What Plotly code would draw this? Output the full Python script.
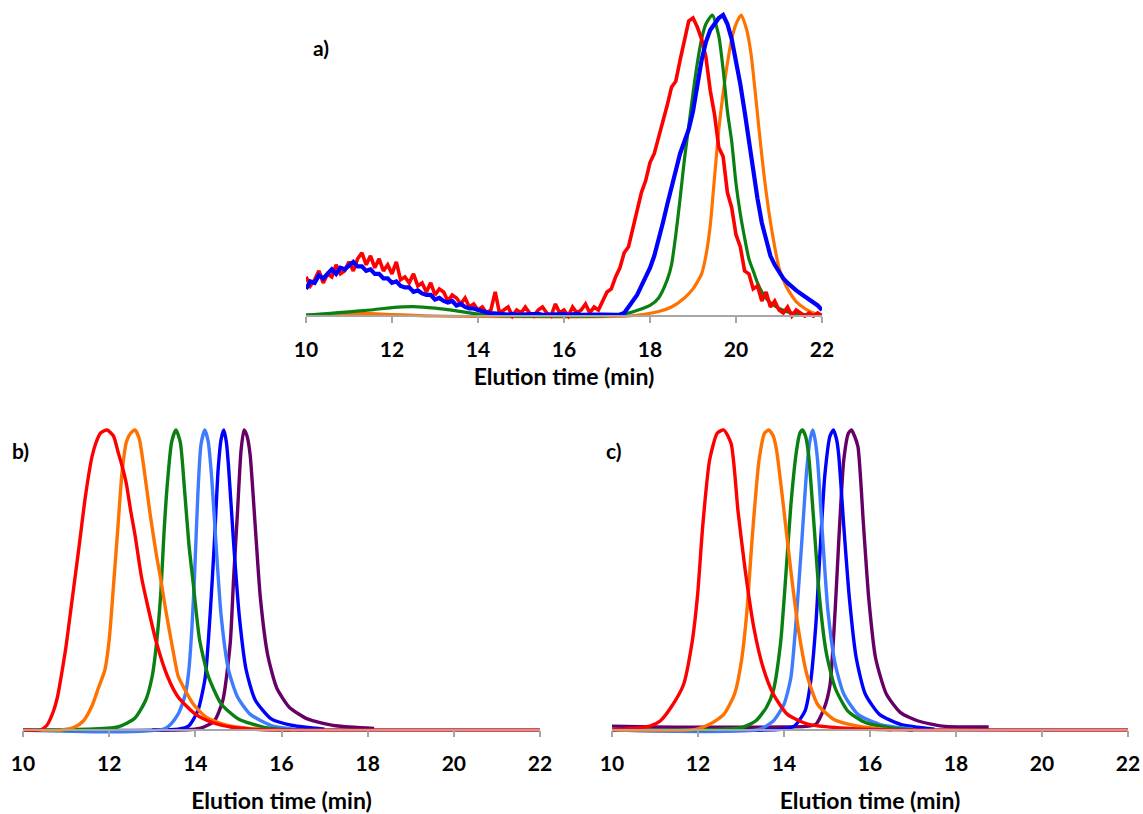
import plotly.graph_objects as go

# ---------------- data ----------------
# Panel a: noisy traces sampled every 0.1 min from 10 to 22
a_grid_t = [round(10 + 0.1 * i, 1) for i in range(121)]
a_red_y = [0.13, 0.10, 0.12, 0.15, 0.11, 0.14, 0.13, 0.17, 0.14, 0.15,
           0.18, 0.15, 0.19, 0.21, 0.17, 0.20, 0.16, 0.19, 0.15, 0.17,
           0.14, 0.18, 0.12, 0.13, 0.11, 0.14, 0.10, 0.11, 0.08, 0.11,
           0.07, 0.09, 0.08, 0.05, 0.07, 0.06, 0.04, 0.06, 0.03, 0.04,
           0.02, 0.03, 0.01, 0.02, 0.08, 0.01, 0.02, 0.03, 0.00, 0.02,
           0.01, 0.03, 0.01, 0.00, 0.02, 0.03, 0.01, 0.00, 0.04, 0.01,
           0.02, 0.00, 0.03, 0.01, 0.02, 0.04, 0.01, 0.03, 0.02, 0.05,
           0.08, 0.09, 0.13, 0.16, 0.21, 0.23, 0.29, 0.34, 0.41, 0.45,
           0.51, 0.54, 0.59, 0.64, 0.70, 0.76, 0.78, 0.85, 0.92, 0.98,
           0.99, 0.96, 0.92, 0.86, 0.75, 0.67, 0.56, 0.53, 0.41, 0.36,
           0.27, 0.23, 0.15, 0.14, 0.09, 0.10, 0.05, 0.08, 0.03, 0.05,
           0.02, 0.01, 0.03, 0.00, 0.02, 0.01, 0.00, 0.01, 0.00, 0.01,
           0.00]
a_blue_y = [0.09, 0.115, 0.11, 0.135, 0.125, 0.14, 0.155, 0.14, 0.16, 0.155,
            0.17, 0.18, 0.165, 0.165, 0.15, 0.155, 0.14, 0.14, 0.125, 0.125,
            0.11, 0.115, 0.10, 0.095, 0.095, 0.08, 0.085, 0.075, 0.07, 0.07,
            0.055, 0.06, 0.05, 0.045, 0.05, 0.035, 0.04, 0.03, 0.025, 0.025,
            0.02, 0.015, 0.012, 0.01, 0.008, 0.008, 0.006, 0.005, 0.007, 0.004,
            0.005, 0.006, 0.004, 0.005, 0.007, 0.004, 0.005, 0.006, 0.004, 0.005,
            0.006, 0.004, 0.005, 0.007, 0.004, 0.005, 0.006, 0.004, 0.005, 0.005,
            0.004, 0.006, 0.004, 0.005, 0.01, 0.03, 0.05, 0.07, 0.10, 0.13,
            0.16, 0.20, 0.25, 0.31, 0.37, 0.43, 0.49, 0.54, 0.58, 0.62,
            0.68, 0.76, 0.85, 0.91, 0.95, 0.97, 0.99, 1.00, 0.97, 0.92,
            0.85, 0.77, 0.68, 0.58, 0.48, 0.39, 0.31, 0.25, 0.20, 0.17,
            0.145, 0.125, 0.11, 0.095, 0.085, 0.075, 0.065, 0.055, 0.045, 0.035,
            0.02]
a_green_t = [10.0, 10.5, 11.0, 11.5, 12.0, 12.5, 13.0, 13.5, 14.0, 14.5, 17.0, 17.5, 18.0, 18.2,
             18.4, 18.5, 18.6, 18.7, 18.8, 18.9, 19.0, 19.1, 19.2, 19.3, 19.45, 19.6, 19.7, 19.8,
             19.9, 20.0, 20.1, 20.2, 20.3, 20.4, 20.5, 20.6, 20.75, 21.0, 21.3, 21.6, 22.0]
a_green_y = [0.003, 0.008, 0.014, 0.02, 0.028, 0.031, 0.026, 0.017, 0.006, 0.001, 0.001, 0.01, 0.035, 0.06,
             0.12, 0.17, 0.27, 0.39, 0.52, 0.63, 0.74, 0.84, 0.92, 0.97, 1.0, 0.93, 0.82, 0.68,
             0.58, 0.44, 0.34, 0.26, 0.19, 0.15, 0.11, 0.08, 0.05, 0.025, 0.01, 0.005, 0.003]
a_orange_t = [10.0, 10.5, 11.0, 11.5, 12.0, 12.5, 13.0, 17.5, 18.2, 18.5, 18.8, 19.0, 19.2, 19.3,
              19.4, 19.5, 19.6, 19.7, 19.8, 19.9, 20.0, 20.12, 20.25, 20.35, 20.45, 20.55, 20.65,
              20.75, 20.85, 21.0, 21.1, 21.2, 21.4, 21.6, 21.8, 22.0]
a_orange_y = [0.003, 0.006, 0.008, 0.008, 0.005, 0.002, 0.0, 0.0, 0.015, 0.03, 0.06, 0.09, 0.14, 0.2,
              0.3, 0.46, 0.62, 0.74, 0.84, 0.92, 0.97, 1.0, 0.95, 0.87, 0.74, 0.6, 0.47,
              0.36, 0.27, 0.16, 0.12, 0.09, 0.048, 0.025, 0.01, 0.003]

# Panel b
b_red_t = [10.0, 10.4, 10.55, 10.7, 10.8, 10.9, 11.0, 11.1, 11.2, 11.3, 11.45, 11.6, 11.7, 11.8, 11.95,
           12.1, 12.2, 12.3, 12.4, 12.5, 12.6, 12.75, 12.9, 13.1, 13.35, 13.6, 14.0, 14.4, 14.85, 15.3,
           16.0, 22.0]
b_red_y = [0, 0, 0.015, 0.06, 0.11, 0.19, 0.28, 0.39, 0.50, 0.61, 0.78, 0.91, 0.96, 0.99, 1.0,
           0.98, 0.93, 0.88, 0.82, 0.73, 0.65, 0.51, 0.41, 0.29, 0.18, 0.11, 0.053, 0.025, 0.009, 0.003,
           0, 0]
b_orange_t = [10.0, 10.9, 11.2, 11.4, 11.6, 11.75, 11.9, 12.0, 12.1, 12.2, 12.3, 12.4, 12.5, 12.6, 12.7,
              12.8, 12.95, 13.1, 13.2, 13.3, 13.45, 13.6, 13.7, 13.95, 14.25, 14.75, 15.4, 16.0]
b_orange_y = [0, 0, 0.01, 0.03, 0.08, 0.14, 0.2, 0.3, 0.48, 0.67, 0.86, 0.96, 0.99, 1.0, 0.97,
              0.88, 0.72, 0.58, 0.5, 0.41, 0.29, 0.18, 0.15, 0.087, 0.043, 0.015, 0.003, 0]
b_green_t = [10.0, 12.2, 12.6, 12.85, 13.0, 13.1, 13.2, 13.27, 13.35, 13.45, 13.55, 13.65, 13.75, 13.85,
             13.95, 14.1, 14.3, 14.6, 15.0, 15.6, 16.2]
b_green_y = [0, 0.01, 0.04, 0.1, 0.18, 0.29, 0.46, 0.65, 0.82, 0.96, 1.0, 0.96, 0.8, 0.62,
             0.49, 0.3, 0.18, 0.087, 0.037, 0.009, 0]
b_lblue_t = [10.0, 13.3, 13.6, 13.77, 13.85, 13.92, 13.98, 14.06, 14.13, 14.22, 14.3, 14.38, 14.48, 14.6,
             14.77, 14.98, 15.27, 15.76, 16.5]
b_lblue_y = [0, 0.005, 0.053, 0.12, 0.2, 0.34, 0.51, 0.79, 0.95, 1.0, 0.96, 0.84, 0.62, 0.38,
             0.2, 0.11, 0.053, 0.015, 0]
b_blue_t = [10.0, 13.6, 13.85, 14.06, 14.23, 14.35, 14.44, 14.53, 14.6, 14.66, 14.72, 14.77, 14.89, 15.02,
            15.18, 15.39, 15.76, 16.26, 17.0]
b_blue_y = [0, 0.003, 0.014, 0.065, 0.176, 0.4, 0.62, 0.87, 0.97, 1.0, 0.96, 0.88, 0.62, 0.38,
            0.2, 0.1, 0.037, 0.015, 0.003]
b_purple_t = [13.0, 14.1, 14.44, 14.64, 14.81, 14.89, 14.98, 15.06, 15.13, 15.2, 15.27, 15.39, 15.51,
              15.68, 15.89, 16.18, 16.6, 17.26, 18.15]
b_purple_y = [0, 0.005, 0.03, 0.1, 0.29, 0.51, 0.73, 0.93, 1.0, 0.98, 0.92, 0.68, 0.44,
              0.25, 0.14, 0.076, 0.037, 0.014, 0.005]

# Panel c
c_red_t = [10.0, 10.88, 11.12, 11.37, 11.66, 11.86, 11.99, 12.11, 12.27, 12.45, 12.6, 12.77, 12.93, 13.1,
           13.3, 13.51, 13.75, 14.08, 14.57, 15.23, 16.05, 22.0]
c_red_y = [0, 0.013, 0.03, 0.075, 0.15, 0.29, 0.45, 0.68, 0.9, 0.99, 1.0, 0.955, 0.73, 0.53,
           0.34, 0.21, 0.12, 0.052, 0.019, 0.008, 0.002, 0]
c_orange_t = [10.0, 11.95, 12.27, 12.6, 12.85, 13.01, 13.14, 13.26, 13.42, 13.55, 13.65, 13.75, 13.83,
              14.0, 14.16, 14.33, 14.53, 14.78, 15.15, 15.72, 16.5]
c_orange_y = [0, 0.002, 0.019, 0.052, 0.12, 0.23, 0.4, 0.64, 0.9, 0.99, 1.0, 0.98, 0.93,
              0.73, 0.53, 0.34, 0.186, 0.086, 0.036, 0.013, 0]
c_green_t = [10.0, 13.01, 13.34, 13.59, 13.75, 13.92, 14.04, 14.16, 14.29, 14.37, 14.43, 14.5, 14.57,
             14.7, 14.82, 14.98, 15.19, 15.48, 15.89, 16.46, 17.0]
c_green_y = [0, 0.008, 0.03, 0.075, 0.13, 0.29, 0.51, 0.75, 0.93, 0.99, 1.0, 0.98, 0.92,
             0.68, 0.45, 0.26, 0.14, 0.064, 0.025, 0.008, 0]
c_lblue_t = [10.0, 13.42, 13.75, 14.0, 14.16, 14.29, 14.41, 14.53, 14.61, 14.67, 14.72, 14.78, 14.9,
             15.02, 15.19, 15.39, 15.72, 16.22, 17.0]
c_lblue_y = [0, 0.002, 0.03, 0.086, 0.175, 0.38, 0.62, 0.87, 0.97, 1.0, 0.97, 0.9, 0.64,
             0.4, 0.22, 0.12, 0.052, 0.019, 0.003]
c_blue_t = [10.0, 13.92, 14.24, 14.49, 14.61, 14.74, 14.84, 14.95, 15.07, 15.15, 15.22, 15.27, 15.39,
            15.52, 15.68, 15.89, 16.22, 16.71, 17.5]
c_blue_y = [0, 0.002, 0.013, 0.064, 0.15, 0.35, 0.6, 0.85, 0.98, 1.0, 0.97, 0.92, 0.68,
            0.44, 0.24, 0.12, 0.052, 0.019, 0.003]
c_purple_t = [10.0, 11.0, 12.0, 13.0, 14.0, 14.5, 14.74, 14.94, 15.07, 15.19, 15.27, 15.39, 15.5, 15.57,
              15.64, 15.72, 15.85, 15.97, 16.13, 16.38, 16.71, 17.12, 17.69, 18.76]
c_purple_y = [0.013, 0.01, 0.009, 0.009, 0.01, 0.012, 0.019, 0.075, 0.15, 0.4, 0.62, 0.9, 0.99, 1.0,
              0.98, 0.944, 0.68, 0.44, 0.24, 0.12, 0.058, 0.03, 0.013, 0.01]

x_ticks = [10, 12, 14, 16, 18, 20, 22]
x_title = "Elution time (min)"
panel_labels = ["a)", "b)", "c)"]

# ---------------- style ----------------
RED = "#FF0000"
ORANGE = "#FF7200"
GREEN = "#0B8012"
LBLUE = "#3F7BFF"
BLUE = "#0000FF"
PURPLE = "#660066"
FONT = "Lato"
W, H = 1143, 814

fig = go.Figure()


def add(t, y, color, xa, ya, width=3.4, shape="spline"):
    fig.add_trace(go.Scatter(x=t, y=y, mode="lines", xaxis=xa, yaxis=ya,
                             line=dict(color=color, width=width, shape=shape,
                                       smoothing=0.6 if shape == "spline" else None),
                             showlegend=False, hoverinfo="skip"))


# panel a
add(a_orange_t, a_orange_y, ORANGE, "x", "y", 3.2)
add(a_green_t, a_green_y, GREEN, "x", "y", 3.2)
add(a_grid_t, a_red_y, RED, "x", "y", 3.6, "linear")
add(a_grid_t, a_blue_y, BLUE, "x", "y", 4.2, "linear")
# panel b
add(b_purple_t, b_purple_y, PURPLE, "x2", "y2")
add(b_blue_t, b_blue_y, BLUE, "x2", "y2")
add(b_lblue_t, b_lblue_y, LBLUE, "x2", "y2")
add(b_green_t, b_green_y, GREEN, "x2", "y2")
add(b_orange_t, b_orange_y, ORANGE, "x2", "y2")
add(b_red_t, b_red_y, RED, "x2", "y2")
# panel c
add(c_purple_t, c_purple_y, PURPLE, "x3", "y3")
add(c_blue_t, c_blue_y, BLUE, "x3", "y3")
add(c_lblue_t, c_lblue_y, LBLUE, "x3", "y3")
add(c_green_t, c_green_y, GREEN, "x3", "y3")
add(c_orange_t, c_orange_y, ORANGE, "x3", "y3")
add(c_red_t, c_red_y, RED, "x3", "y3")


def px_x(p):
    return p / W


def px_y(p):
    return (H - p) / H


TICKFONT = dict(family=FONT, size=21, color="#000000", weight="bold")
TITLEFONT = dict(family=FONT, size=23, color="#000000", weight="bold")


def xaxis(x0, x1, base_py, title_standoff):
    return dict(domain=[px_x(x0), px_x(x1)], range=[10, 22], tickvals=x_ticks,
                anchor="free", position=px_y(base_py), automargin=False,
                showline=True, linecolor="#A6A6A6", linewidth=1.5,
                ticks="outside", ticklen=6, tickwidth=1.5, tickcolor="#A6A6A6",
                showgrid=False, zeroline=False, ticklabelstandoff=9,
                tickfont=TICKFONT,
                title=dict(text=x_title, standoff=title_standoff, font=TITLEFONT))


def yaxis(base_py, top_py, xa):
    unit = base_py - top_py
    return dict(domain=[px_y(base_py + 0.02 * unit), px_y(top_py - 0.025 * unit)],
                range=[-0.02, 1.025], visible=False, anchor=xa, automargin=False)


fig.update_layout(
    width=W, height=H, margin=dict(l=0, r=0, t=0, b=0, autoexpand=False),
    paper_bgcolor="white", plot_bgcolor="rgba(0,0,0,0)",
    xaxis=xaxis(306, 822, 316, 8),
    yaxis=yaxis(316, 15, "x"),
    xaxis2=xaxis(23, 540, 730, 20),
    yaxis2=yaxis(730, 430, "x2"),
    xaxis3=xaxis(612, 1128, 730, 20),
    yaxis3=yaxis(730, 430, "x3"),
    annotations=[
        dict(text=panel_labels[0], x=px_x(311), y=px_y(47), xref="paper", yref="paper",
             xanchor="left", yanchor="middle", showarrow=False, font=TICKFONT),
        dict(text=panel_labels[1], x=px_x(10), y=px_y(450), xref="paper", yref="paper",
             xanchor="left", yanchor="middle", showarrow=False, font=TICKFONT),
        dict(text=panel_labels[2], x=px_x(604), y=px_y(450), xref="paper", yref="paper",
             xanchor="left", yanchor="middle", showarrow=False, font=TICKFONT),
    ],
)

fig.write_html("out.html", config={"displayModeBar": False},
               post_script="document.body.style.margin='0';")
